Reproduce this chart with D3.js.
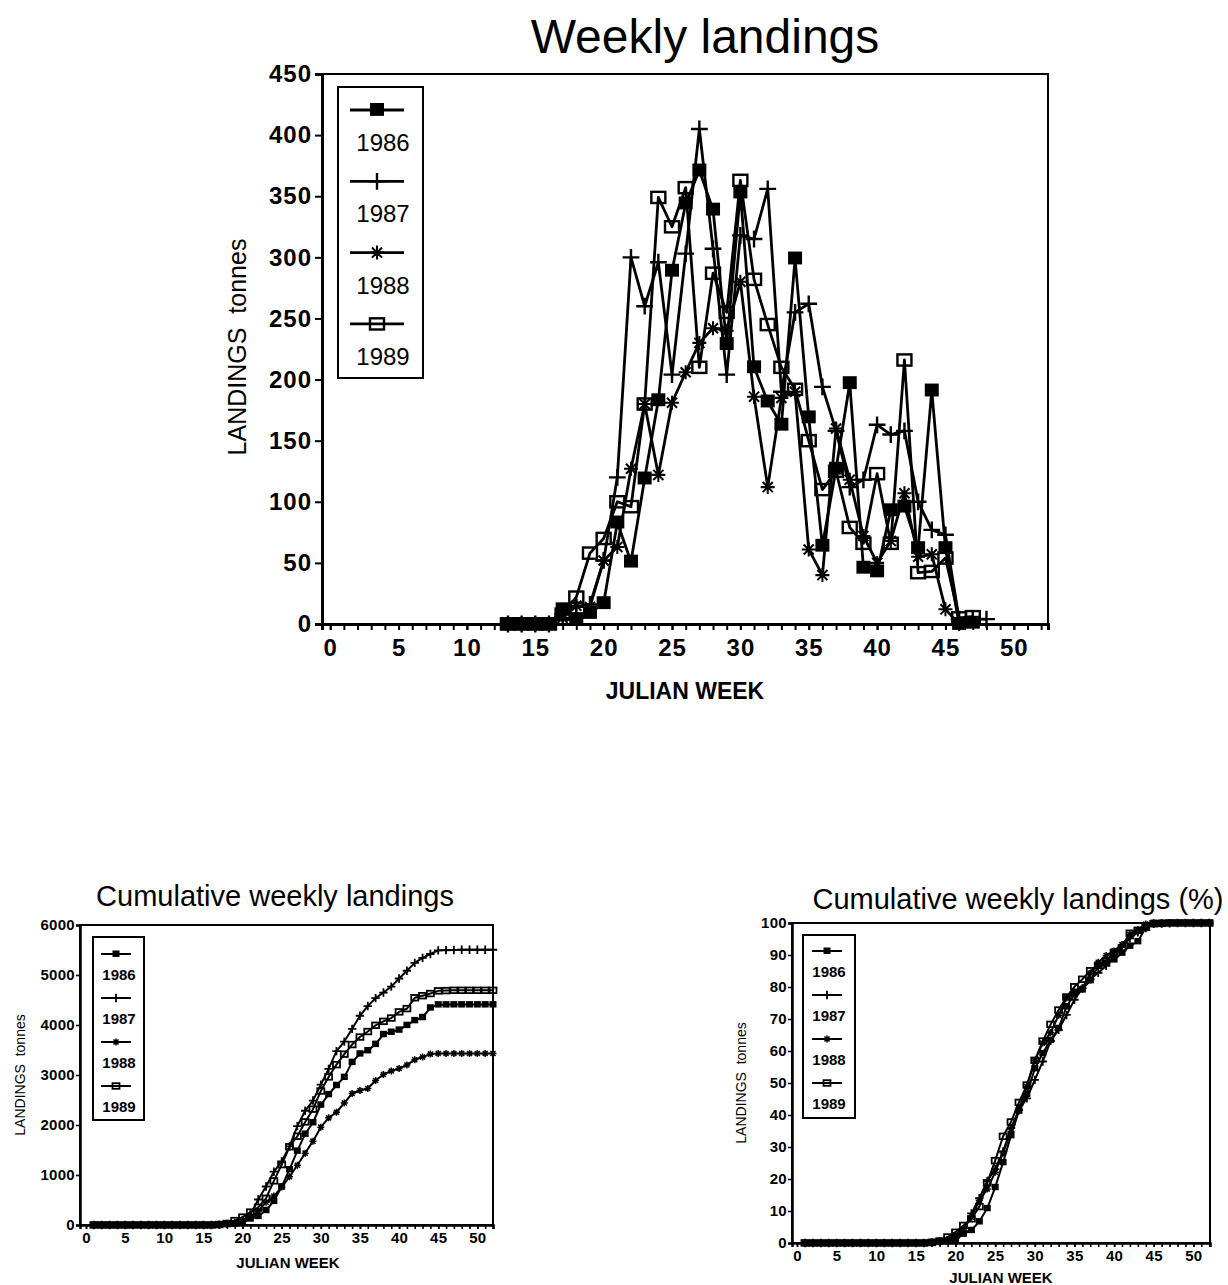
<!DOCTYPE html>
<html>
<head>
<meta charset="utf-8">
<script src="https://cdn.jsdelivr.net/npm/d3@7"></script>
<style>
  body { margin: 0; background: #fff; }
  svg { display: block; font-family: "Liberation Sans", Arial, Helvetica, sans-serif; }
</style>
</head>
<body>
<script>
// weekly landings (tonnes); each list starts at firstWeek
const years = ["1986", "1987", "1988", "1989"];
const firstWeek = [13, 13, 13, 13];
const landings1986 = [0, 0, 0, 0, 12, 4, 9, 17, 83, 51, 119, 183, 289, 344, 371, 339, 229, 353, 210, 182, 163, 299, 169, 64, 127, 197, 46, 43, 93, 96, 62, 191, 62, 0, 1];
const landings1987 = [0, 0, 0, 0, 8, 14, 16, 52, 120, 300, 260, 296, 204, 303, 405, 307, 204, 318, 315, 356, 190, 255, 262, 194, 158, 112, 118, 163, 155, 158, 100, 77, 73, 4, 4, 4];
const landings1988 = [0, 0, 0, 0, 5, 15, 14, 52, 63, 127, 180, 122, 181, 206, 230, 242, 240, 280, 186, 112, 185, 190, 61, 40, 160, 118, 72, 50, 68, 107, 55, 57, 12, 0];
const landings1989 = [0, 0, 0, 0, 8, 22, 58, 70, 100, 96, 180, 349, 325, 357, 210, 287, 255, 363, 282, 245, 210, 192, 150, 110, 125, 79, 66, 123, 66, 216, 42, 43, 54, 5, 6];
const markerTypes = ["filledSquare", "plus", "asterisk", "openSquare"];

const allWeeks = d3.range(1, 53);
const weekTicksMajor = [0, 5, 10, 15, 20, 25, 30, 35, 40, 45, 50];
const yTicksWeekly = [0, 50, 100, 150, 200, 250, 300, 350, 400, 450];
const yTicksCumulative = [0, 1000, 2000, 3000, 4000, 5000, 6000];
const yTicksPercent = [0, 10, 20, 30, 40, 50, 60, 70, 80, 90, 100];

const weekly = [landings1986, landings1987, landings1988, landings1989];

// series as the library wants them
const weeklySeries = weekly.map((vals, i) =>
  vals.map((v, j) => ({week: firstWeek[i] + j, value: v})));

const cumulativeSeries = weekly.map((vals, i) => {
  const full = allWeeks.map(w => {
    const j = w - firstWeek[i];
    return (j >= 0 && j < vals.length) ? vals[j] : 0;
  });
  const cs = Array.from(d3.cumsum(full));
  return allWeeks.map((w, k) => ({week: w, value: cs[k]}));
});

const percentSeries = cumulativeSeries.map(s => {
  const total = s[s.length - 1].value;
  return s.map(d => ({week: d.week, value: d.value / total * 100}));
});

const svg = d3.select("body").append("svg")
  .attr("width", 1228)
  .attr("height", 1285);

function drawMarker(g, type, s, sw) {
  if (type === "filledSquare") {
    g.append("rect").attr("x", -s / 2).attr("y", -s / 2).attr("width", s).attr("height", s * 0.92)
      .attr("fill", "#000");
  } else if (type === "openSquare") {
    g.append("rect").attr("x", -s / 2).attr("y", -s * 0.4).attr("width", s).attr("height", s * 0.8)
      .attr("fill", "none").attr("stroke", "#000").attr("stroke-width", sw);
  } else if (type === "plus") {
    const r = s * 0.6;
    g.append("path").attr("d", `M${-r},0H${r}M0,${-r}V${r}`)
      .attr("stroke", "#000").attr("stroke-width", sw).attr("fill", "none");
  } else {
    const r = s * 0.5, d = r * 0.72;
    g.append("path")
      .attr("d", `M${-r},0H${r}M0,${-r}V${r}M${-d},${-d}L${d},${d}M${-d},${d}L${d},${-d}`)
      .attr("stroke", "#000").attr("stroke-width", sw * 0.85).attr("fill", "none");
  }
}

function drawPanel(p) {
  const x = d3.scaleLinear().domain(p.xDomain).range([p.left, p.right]);
  const y = d3.scaleLinear().domain([0, p.yMax]).range([p.bottom, p.top]);
  const g = svg.append("g");

  // title
  g.append("text")
    .attr("x", p.titleX).attr("y", p.titleY)
    .attr("text-anchor", "middle")
    .attr("font-size", p.titleSize)
    .text(p.title);

  // frame
  g.append("rect")
    .attr("x", p.left).attr("y", p.top)
    .attr("width", p.right - p.left).attr("height", p.bottom - p.top)
    .attr("fill", "none").attr("stroke", "#000").attr("stroke-width", p.frameWidth);

  // y axis
  const ya = g.append("g")
    .attr("transform", `translate(${p.left},0)`)
    .call(d3.axisLeft(y).tickValues(p.yTicks).tickSize(p.yTickSize).tickPadding(p.yTickPad)
      .tickFormat(d3.format("d")));
  ya.select(".domain").attr("stroke-width", p.axisWidth);
  ya.selectAll(".tick line").attr("stroke-width", p.tickWidth);
  ya.selectAll("text")
    .attr("font-size", p.tickFont).attr("font-weight", "bold")
    .attr("letter-spacing", p.tickSpacing).attr("font-family", "Liberation Sans, Arial, sans-serif")
    .attr("fill", "#000");

  // x axis: a tick each week, labels every 5
  const xm = g.append("g")
    .attr("transform", `translate(0,${p.bottom})`)
    .call(d3.axisBottom(x).tickValues(d3.range(0, 53)).tickSize(p.xTickSize).tickFormat(""));
  xm.select(".domain").attr("stroke-width", p.axisWidth);
  xm.selectAll(".tick line").attr("stroke-width", p.tickWidth);

  const xa = g.append("g")
    .attr("transform", `translate(0,${p.bottom})`)
    .call(d3.axisBottom(x).tickValues(weekTicksMajor).tickSize(p.xTickSize).tickPadding(p.xTickPad));
  xa.select(".domain").remove();
  xa.selectAll(".tick line").attr("stroke-width", p.tickWidth);
  xa.selectAll("text")
    .attr("font-size", p.tickFont).attr("font-weight", "bold")
    .attr("letter-spacing", p.tickSpacing).attr("font-family", "Liberation Sans, Arial, sans-serif")
    .attr("fill", "#000");

  // axis titles
  g.append("text")
    .attr("x", p.xLabelX).attr("y", p.xLabelY)
    .attr("text-anchor", "middle")
    .attr("font-size", p.xLabelFont).attr("font-weight", "bold")
    .text("JULIAN WEEK");

  g.append("text")
    .attr("transform", `translate(${p.yLabelX},${p.yLabelY}) rotate(-90)`)
    .attr("text-anchor", "middle")
    .attr("font-size", p.yLabelFont)
    .attr("xml:space", "preserve")
    .text("LANDINGS  tonnes");

  // lines and markers
  const line = d3.line().x(d => x(d.week)).y(d => y(d.value));
  p.series.forEach((s, i) => {
    g.append("path")
      .datum(s)
      .attr("d", line)
      .attr("fill", "none")
      .attr("stroke", "#000")
      .attr("stroke-width", p.lineWidth)
      .attr("stroke-linejoin", "round");
    g.selectAll(null)
      .data(s)
      .enter().append("g")
      .attr("transform", d => `translate(${x(d.week)},${y(d.value)})`)
      .each(function() { drawMarker(d3.select(this), markerTypes[i], p.markerSize, p.markerStroke); });
  });

  // legend
  const lg = p.legend;
  g.append("rect")
    .attr("x", lg.x0).attr("y", lg.y0)
    .attr("width", lg.x1 - lg.x0).attr("height", lg.y1 - lg.y0)
    .attr("fill", "#fff").attr("stroke", "#000").attr("stroke-width", lg.border);
  years.forEach((yr, i) => {
    const ly = lg.firstLine + i * lg.step;
    g.append("line")
      .attr("x1", lg.lineX0).attr("x2", lg.lineX1)
      .attr("y1", ly).attr("y2", ly)
      .attr("stroke", "#000").attr("stroke-width", p.lineWidth);
    const m = g.append("g").attr("transform", `translate(${(lg.lineX0 + lg.lineX1) / 2},${ly})`);
    drawMarker(m, markerTypes[i], p.markerSize, p.markerStroke);
    g.append("text")
      .attr("x", lg.textX).attr("y", ly + lg.textDy)
      .attr("text-anchor", "middle")
      .attr("font-size", lg.font)
      .attr("font-weight", lg.weight)
      .text(yr);
  });
}

// main panel
drawPanel({
  series: weeklySeries,
  left: 322, right: 1048, top: 74, bottom: 624,
  xDomain: [-0.6, 52.5], yMax: 450, yTicks: yTicksWeekly,
  title: "Weekly landings", titleX: 705, titleY: 53, titleSize: 48,
  frameWidth: 2, axisWidth: 3, tickWidth: 2,
  yTickSize: 7, yTickPad: 3, xTickSize: 6, xTickPad: 9,
  tickFont: 24, tickSpacing: 1,
  xLabelX: 685, xLabelY: 699, xLabelFont: 23,
  yLabelX: 246, yLabelY: 347, yLabelFont: 25,
  lineWidth: 2.8, markerSize: 14, markerStroke: 2.4,
  legend: {x0: 338, y0: 87, x1: 423, y1: 378, border: 2,
           firstLine: 110, step: 71.3, lineX0: 350, lineX1: 404,
           textX: 383, textDy: 41, font: 24, weight: "normal"}
});

// cumulative
drawPanel({
  series: cumulativeSeries,
  left: 80, right: 493, top: 925, bottom: 1225,
  xDomain: [-0.77, 52], yMax: 6000, yTicks: yTicksCumulative,
  title: "Cumulative weekly landings", titleX: 275, titleY: 906, titleSize: 29,
  frameWidth: 2, axisWidth: 2.5, tickWidth: 1.6,
  yTickSize: 4, yTickPad: 1, xTickSize: 4, xTickPad: 3,
  tickFont: 15, tickSpacing: 0.3,
  xLabelX: 288, xLabelY: 1268, xLabelFont: 15,
  yLabelX: 25, yLabelY: 1075, yLabelFont: 14,
  lineWidth: 2, markerSize: 7, markerStroke: 1.8,
  legend: {x0: 93, y0: 937, x1: 144, y1: 1120, border: 2,
           firstLine: 954, step: 44, lineX0: 101, lineX1: 131,
           textX: 119, textDy: 26, font: 15, weight: "bold"}
});

// cumulative percent
drawPanel({
  series: percentSeries,
  left: 792, right: 1210, top: 923, bottom: 1243,
  xDomain: [-0.63, 52.1], yMax: 100, yTicks: yTicksPercent,
  title: "Cumulative weekly landings (%)", titleX: 1018, titleY: 909, titleSize: 29,
  frameWidth: 2, axisWidth: 2.5, tickWidth: 1.6,
  yTickSize: 4, yTickPad: 1, xTickSize: 4, xTickPad: 3,
  tickFont: 15, tickSpacing: 0.3,
  xLabelX: 1001, xLabelY: 1283, xLabelFont: 15,
  yLabelX: 746, yLabelY: 1083, yLabelFont: 14,
  lineWidth: 2, markerSize: 7, markerStroke: 1.8,
  legend: {x0: 803, y0: 935, x1: 855, y1: 1118, border: 2,
           firstLine: 951, step: 44, lineX0: 812, lineX1: 842,
           textX: 829, textDy: 26, font: 15, weight: "bold"}
});
</script>
</body>
</html>
